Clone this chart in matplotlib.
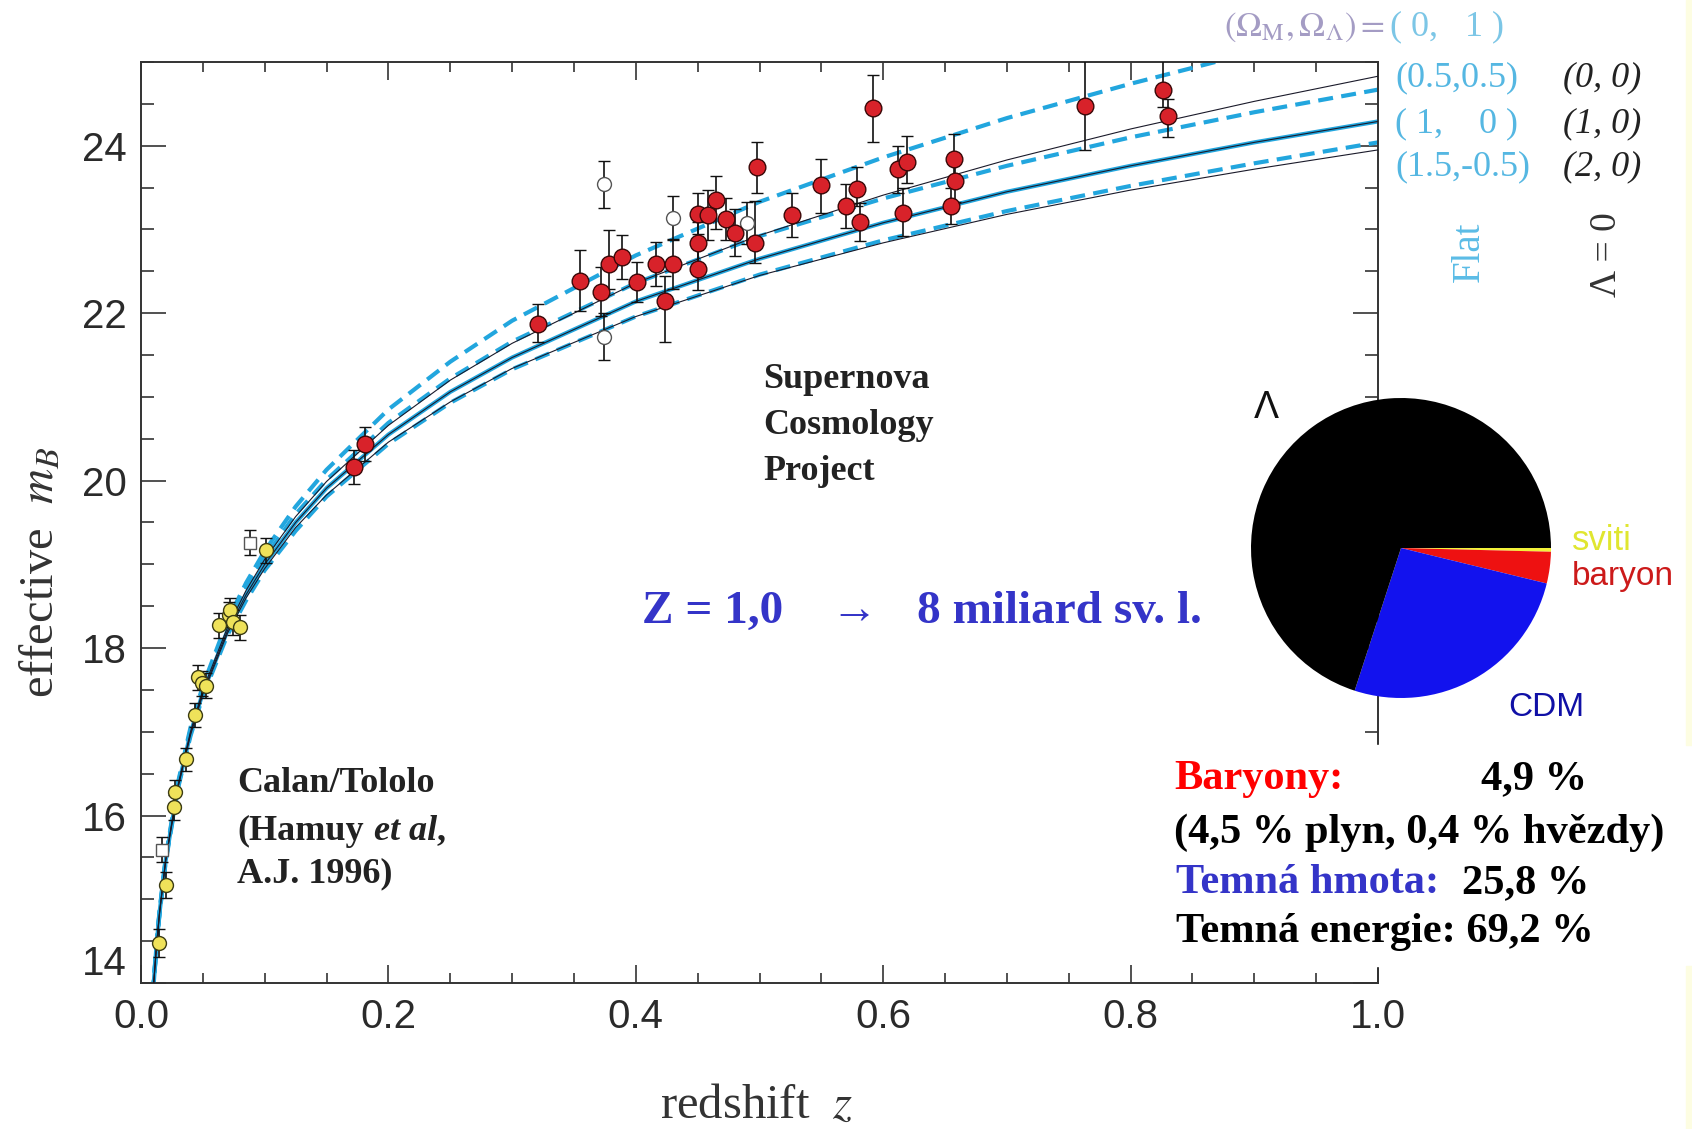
import numpy as np
import matplotlib.pyplot as plt
from matplotlib import font_manager
from matplotlib.patches import Rectangle

W, H = 1692, 1129

# model curves: effective m_B at these redshifts
z_model = [0.0095, 0.0125, 0.015, 0.02, 0.03, 0.04, 0.05, 0.07, 0.085, 0.1, 0.125,
           0.15, 0.2, 0.25, 0.3, 0.4, 0.5, 0.6, 0.7, 0.8, 0.9, 1.0]
m_flat_0_1 = [13.86, 14.46, 14.86, 15.50, 16.40, 17.05, 17.55, 18.33, 18.78, 19.16, 19.69,
              20.13, 20.85, 21.42, 21.91, 22.69, 23.33, 23.86, 24.33, 24.74, 25.12, 25.46]
m_flat_05_05 = [13.85, 14.45, 14.85, 15.48, 16.38, 17.02, 17.51, 18.27, 18.71, 19.08, 19.60,
                20.01, 20.69, 21.22, 21.66, 22.36, 22.92, 23.37, 23.76, 24.10, 24.40, 24.67]
m_flat_1_0 = [13.84, 14.44, 14.84, 15.47, 16.35, 16.98, 17.47, 18.21, 18.64, 19.00, 19.50,
              19.91, 20.55, 21.06, 21.47, 22.14, 22.65, 23.08, 23.45, 23.76, 24.04, 24.29]
m_flat_15_m05 = [13.84, 14.43, 14.83, 15.45, 16.33, 16.95, 17.43, 18.16, 18.57, 18.93, 19.40,
                 19.81, 20.44, 20.93, 21.33, 21.96, 22.46, 22.87, 23.22, 23.52, 23.79, 24.04]
m_open_0_0 = [13.85, 14.45, 14.85, 15.48, 16.37, 17.00, 17.50, 18.25, 18.69, 19.06, 19.57,
              19.99, 20.66, 21.20, 21.64, 22.36, 22.93, 23.41, 23.83, 24.20, 24.53, 24.83]
m_closed_2_0 = [13.84, 14.43, 14.83, 15.46, 16.34, 16.96, 17.45, 18.18, 18.60, 18.95, 19.44,
                19.83, 20.46, 20.94, 21.34, 21.96, 22.45, 22.84, 23.18, 23.47, 23.72, 23.95]

# Calan/Tololo supernovae
ct_z = [0.0148, 0.0200, 0.0270, 0.0275, 0.0360, 0.0440, 0.0458, 0.0490, 0.0525,
        0.0630, 0.0710, 0.0719, 0.0745, 0.0800, 0.1010]
ct_m = [14.48, 15.17, 16.10, 16.28, 16.67, 17.20, 17.65, 17.58, 17.55,
        18.27, 18.40, 18.45, 18.31, 18.25, 19.17]
ct_err = [0.17, 0.15, 0.15, 0.15, 0.14, 0.14, 0.15, 0.15, 0.15,
          0.15, 0.15, 0.15, 0.15, 0.15, 0.15]

# Supernova Cosmology Project
scp_z = [0.172, 0.181, 0.321, 0.355, 0.372, 0.378, 0.389, 0.401, 0.416, 0.424, 0.430,
         0.450, 0.450, 0.450, 0.458, 0.465, 0.473, 0.480, 0.496, 0.498, 0.526, 0.550,
         0.570, 0.579, 0.581, 0.592, 0.612, 0.619, 0.616, 0.657, 0.658, 0.655,
         0.763, 0.826, 0.830]
scp_m = [20.16, 20.44, 21.87, 22.39, 22.25, 22.59, 22.67, 22.37, 22.59, 22.14, 22.59,
         23.19, 22.84, 22.53, 23.17, 23.35, 23.13, 22.96, 22.84, 23.74, 23.17, 23.53,
         23.28, 23.48, 23.09, 24.45, 23.72, 23.81, 23.20, 23.84, 23.58, 23.28,
         24.48, 24.66, 24.36]
scp_lo = [0.2, 0.2, 0.22, 0.36, 0.28, 0.3, 0.26, 0.24, 0.26, 0.49, 0.3,
          0.25, 0.25, 0.25, 0.3, 0.35, 0.25, 0.28, 0.24, 0.3, 0.26, 0.33,
          0.26, 0.2, 0.23, 0.4, 0.28, 0.25, 0.28, 0.2, 0.25, 0.22,
          0.53, 0.2, 0.25]
scp_hi = [0.2, 0.2, 0.24, 0.36, 0.3, 0.4, 0.26, 0.24, 0.26, 0.3, 0.3,
          0.25, 0.25, 0.25, 0.3, 0.29, 0.25, 0.28, 0.5, 0.3, 0.26, 0.31,
          0.26, 0.26, 0.23, 0.4, 0.28, 0.31, 0.3, 0.3, 0.25, 0.22,
          0.54, 0.55, 0.2]

# open symbols (excluded points)
open_sq_z = [0.017, 0.0885]
open_sq_m = [15.59, 19.26]
open_sq_err = [0.15, 0.15]
open_z = [0.374, 0.374, 0.430, 0.490]
open_m = [23.54, 21.72, 23.14, 23.08]
open_err = [0.28, 0.28, 0.26, 0.25]

x_ticks = [0.0, 0.2, 0.4, 0.6, 0.8, 1.0]
y_ticks = [14, 16, 18, 20, 22, 24]

# energy budget pie
pie_labels = ['sviti', 'baryon', 'CDM', 'Λ']
pie_values = [0.4, 3.4, 26.2, 70.0]
pie_colors = ['#f2f23a', '#ee1111', '#1212ee', '#000000']

names = {f.name for f in font_manager.fontManager.ttflist}
if 'Liberation Sans Narrow' in names:
    tick_font, tick_size = 'Liberation Sans Narrow', 34
else:
    tick_font, tick_size = 'Liberation Sans', 29
serif = 'Liberation Serif'
plt.rcParams['mathtext.fontset'] = 'stix'


def fx(px):
    return px / W


def fy(py):
    return 1 - py / H


fig = plt.figure(figsize=(W / 100, H / 100), dpi=100)
ax = fig.add_axes([fx(141), fy(983), (1378 - 141) / W, (983 - 62) / H])

cyan = '#22a6de'
dash = dict(color=cyan, lw=3.0, dashes=(3.6, 2.0), zorder=2)
ax.plot(z_model, m_flat_0_1, **dash)
ax.plot(z_model, m_flat_05_05, **dash)
ax.plot(z_model, m_flat_15_m05, **dash)
ax.plot(z_model, m_flat_1_0, color=cyan, lw=3.0, zorder=2)
for m in (m_open_0_0, m_flat_1_0, m_closed_2_0):
    ax.plot(z_model, m, color='#1a1a2a', lw=0.8, zorder=3)

ebk = dict(ecolor='#111111', elinewidth=1.2, capsize=4, capthick=1.2, zorder=4)
ax.errorbar(open_sq_z, open_sq_m, yerr=open_sq_err, fmt='s', ms=9, mfc='white',
            mec='#555555', mew=1.0, **ebk)
ax.errorbar(open_z, open_m, yerr=open_err, fmt='o', ms=10, mfc='white',
            mec='#555555', mew=1.0, **ebk)
ax.errorbar(ct_z, ct_m, yerr=ct_err, fmt='o', ms=10, mfc='#efe25a',
            mec='#3c3c14', mew=1.0, **ebk)
ax.errorbar(scp_z, scp_m, yerr=[scp_lo, scp_hi], fmt='o', ms=12, mfc='#d8222a',
            mec='#3a0808', mew=1.0, **ebk)

ax.set_xlim(0, 1)
ax.set_ylim(14, 25)
ax.set_xticks(x_ticks)
ax.set_xticklabels([f'{t:.1f}' for t in x_ticks])
ax.set_xticks(np.arange(0, 1.001, 0.05), minor=True)
ax.set_yticks(y_ticks)
ax.set_yticks(np.arange(14, 25.01, 0.5), minor=True)
ax.tick_params(which='both', direction='in', top=True, right=True, color='#333333',
               width=1.2, labelsize=tick_size, labelcolor='#2a2a2a')
ax.tick_params(axis='y', which='major', length=18, pad=10)
ax.tick_params(axis='y', which='minor', length=9.5)
ax.tick_params(axis='x', which='major', length=13, pad=11)
ax.tick_params(axis='x', which='minor', length=7)
for lab in ax.get_xticklabels() + ax.get_yticklabels():
    lab.set_fontfamily(tick_font)
for t in ax.yaxis.get_major_ticks():
    if t.get_loc() == 14:
        t.label1.set_verticalalignment('bottom')
for s in ax.spines.values():
    s.set_linewidth(1.4)
    s.set_color('#333333')

# axis titles
fig.text(fx(41), fy(572), 'effective  $m_B$', rotation=90, ha='center', va='center',
         fontsize=35, family=serif, color='#333333')
fig.text(fx(757), fy(1106), 'redshift  $z$', ha='center', va='center',
         fontsize=35, family=serif, color='#333333')

# curve labels on the right
fig.text(fx(1385), fy(27), r'$(\Omega_{\mathrm{M}},\Omega_{\Lambda}) =$', ha='right',
         va='center', fontsize=25, color='#a49cc4')
fig.text(fx(1390), fy(27), '( 0,   1 )', ha='left', va='center', fontsize=26,
         family=serif, color='#7cc6e6')
lab_cyan = '#55b7e2'
for txt, y in [('(0.5,0.5)', 78), ('( 1,    0 )', 124), ('(1.5,-0.5)', 167)]:
    fig.text(fx(1395), fy(y), txt, ha='left', va='center', fontsize=26,
             family=serif, color=lab_cyan)
for txt, y in [('(0, 0)', 78), ('(1, 0)', 124), ('(2, 0)', 167)]:
    fig.text(fx(1563), fy(y), txt, ha='left', va='center', fontsize=26,
             family=serif, style='italic', color='#222222')
fig.text(fx(1469), fy(252), 'Flat', rotation=90, ha='center', va='center',
         fontsize=28, family=serif, color='#5bbce6')
fig.text(fx(1607), fy(255), 'Λ = 0', rotation=90, ha='center', va='center',
         fontsize=27, family=serif, color='#333333')

# annotations in the plot
bold = dict(family=serif, weight='bold', fontsize=26, color='#222222', va='center')
for txt, y in [('Supernova', 380), ('Cosmology', 426), ('Project', 472)]:
    fig.text(fx(763), fy(y), txt, **bold)
fig.text(fx(237), fy(784), 'Calan/Tololo', **bold)
renderer = fig.canvas.get_renderer()
t1 = fig.text(fx(237), fy(831), '(Hamuy', **bold)
x1 = t1.get_window_extent(renderer).x1 + 10
t2 = fig.text(x1 / W, fy(831), 'et al', style='italic', **bold)
x2 = t2.get_window_extent(renderer).x1
fig.text(x2 / W, fy(831), ',', **bold)
fig.text(fx(237), fy(874), 'A.J. 1996)', **bold)

blue = '#3434c8'
big = dict(family=serif, weight='bold', fontsize=34, color=blue, va='center')
fig.text(fx(642), fy(612), 'Z = 1,0', **big)
fig.text(fx(830), fy(612), '→', **big)
fig.text(fx(917), fy(612), '8 miliard sv. l.', **big)

# pie chart of the energy budget
ax_pie = fig.add_axes([fx(1251), fy(698), 300 / W, 300 / H])
ax_pie.pie(pie_values, colors=pie_colors, startangle=0, counterclock=False,
           wedgeprops=dict(linewidth=0))
ax_pie.set_xlim(-1, 1)
ax_pie.set_ylim(-1, 1)
ax_pie.axis('off')
ax_pie.set_zorder(5)
sans = 'Liberation Sans'
fig.text(fx(1266), fy(408), pie_labels[3], ha='center', va='center', fontsize=27,
         family=sans, color='#111111')
fig.text(fx(1572), fy(540), pie_labels[0], ha='left', va='center', fontsize=25,
         family=sans, color='#e0e630')
fig.text(fx(1572), fy(576), pie_labels[1], ha='left', va='center', fontsize=24,
         family=sans, color='#cc1a1a')
fig.text(fx(1508), fy(707), pie_labels[2], ha='left', va='center', fontsize=24,
         family=sans, color='#1010a6')

# white box with the Czech numbers
fig.add_artist(Rectangle((fx(1165), fy(966)), (1686 - 1165) / W, (966 - 745) / H,
                         transform=fig.transFigure, color='white', zorder=1))
fig.add_artist(Rectangle((fx(1686), fy(745)), 6 / W, 745 / H,
                         transform=fig.transFigure, color='#fdfde2', zorder=1))
fig.add_artist(Rectangle((fx(1686), 0), 6 / W, (H - 966) / H,
                         transform=fig.transFigure, color='#fdfde2', zorder=1))
blk = dict(family=serif, weight='bold', fontsize=30.5, va='center', zorder=6)
fig.text(fx(1174), fy(779), 'Baryony:', color='#ff0000', **blk)
fig.text(fx(1481), fy(779), '4,9 %', color='black', **blk)
fig.text(fx(1174), fy(833), '(4,5 % plyn, 0,4 % hvězdy)', color='black', **blk)
fig.text(fx(1176), fy(883), 'Temná hmota:', color=blue, **blk)
fig.text(fx(1462), fy(883), '25,8 %', color='black', **blk)
fig.text(fx(1176), fy(932), 'Temná energie: 69,2 %', color='black', **blk)

fig.savefig('out.png', dpi=100)
